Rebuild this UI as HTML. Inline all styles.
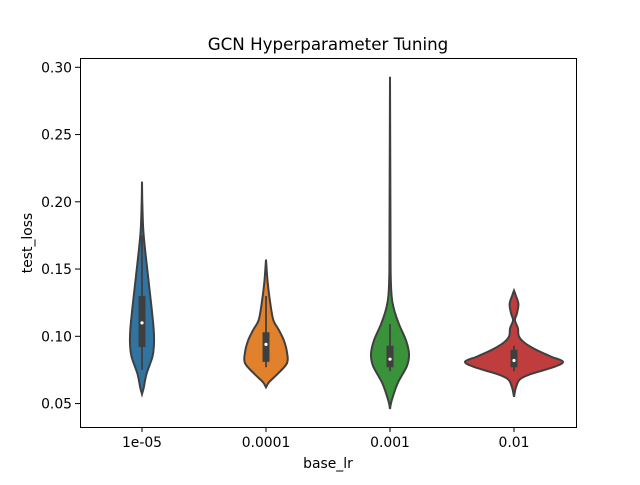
<!DOCTYPE html>
<html><head><meta charset="utf-8">
<style>
body{margin:0;background:#fff;}
svg text{font-family:"DejaVu Sans","Liberation Sans",sans-serif;fill:#000;}
</style></head>
<body>
<svg id="chart" width="640" height="480" xmlns="http://www.w3.org/2000/svg">
<rect x="0" y="0" width="640" height="480" fill="#fff"/>
<g id="plot"></g>
<rect x="80.5" y="58.5" width="496" height="369" fill="none" stroke="#000" stroke-width="1"/>
<text x="328" y="50" font-size="16.7" text-anchor="middle">GCN Hyperparameter Tuning</text>
<text x="328" y="468" font-size="13.9" text-anchor="middle">base_lr</text>
<text transform="translate(32,243) rotate(-90)" font-size="13.9" text-anchor="middle">test_loss</text>
<g id="axes"></g>
</svg>
<script>
const categories = ["1e-05","0.0001","0.001","0.01"];
const colors = ["#3274a1","#e1812c","#3a923a","#c03d3e"];
const yTicks = [0.05,0.10,0.15,0.20,0.25,0.30];
const yTickLabels = ["0.05","0.10","0.15","0.20","0.25","0.30"];
// density profiles: [value, relative half-width]
const density0 = [[0.057,0],[0.062,0.12],[0.072,0.3],[0.085,0.7],[0.095,0.8],[0.105,0.78],[0.12,0.65],[0.135,0.5],[0.15,0.35],[0.165,0.2],[0.18,0.08],[0.2,0.02],[0.215,0]];
const density1 = [[0.062,0],[0.066,0.15],[0.072,0.55],[0.08,1.0],[0.088,1.0],[0.097,0.85],[0.105,0.6],[0.112,0.35],[0.125,0.2],[0.14,0.08],[0.157,0]];
const density2 = [[0.046,0],[0.052,0.08],[0.065,0.38],[0.078,0.85],[0.087,0.95],[0.097,0.8],[0.109,0.45],[0.12,0.2],[0.13,0.08],[0.15,0.03],[0.2,0.02],[0.293,0]];
const density3 = [[0.055,0],[0.062,0.04],[0.068,0.12],[0.072,0.35],[0.077,0.8],[0.081,1.0],[0.085,0.75],[0.09,0.45],[0.095,0.22],[0.1,0.1],[0.106,0.08],[0.112,0.02],[0.117,0.06],[0.124,0.09],[0.13,0.04],[0.134,0]];
const densities = [density0,density1,density2,density3];
const scaleWidth = [15,21,20,49];
const q1 = [0.092,0.081,0.077,0.077];
const q3 = [0.130,0.103,0.093,0.090];
const medians = [0.110,0.094,0.083,0.082];
const whiskLo = [0.075,0.077,0.074,0.074];
const whiskHi = [0.175,0.130,0.109,0.093];

const xPos = i => 142 + i*124;
const yPos = v => 67.3 + (0.30 - v)*1345;
const NS = "http://www.w3.org/2000/svg";
const plot = document.getElementById('plot');
const axes = document.getElementById('axes');

function smooth(pts){
  let d = `M${pts[0][0]},${pts[0][1]}`;
  for(let i=0;i<pts.length-1;i++){
    const p0=pts[Math.max(i-1,0)],p1=pts[i],p2=pts[i+1],p3=pts[Math.min(i+2,pts.length-1)];
    const c1=[p1[0]+(p2[0]-p0[0])/6,p1[1]+(p2[1]-p0[1])/6];
    const c2=[p2[0]-(p3[0]-p1[0])/6,p2[1]-(p3[1]-p1[1])/6];
    d+=` C${c1[0]},${c1[1]} ${c2[0]},${c2[1]} ${p2[0]},${p2[1]}`;
  }
  return d;
}

categories.forEach((c,i)=>{
  const cx = xPos(i), dens = densities[i], w = scaleWidth[i];
  const right = dens.map(p=>[cx + p[1]*w, yPos(p[0])]);
  const left = dens.slice().reverse().map(p=>[cx - p[1]*w, yPos(p[0])]);
  const d = smooth(right) + ' L' + smooth(left).slice(1) + ' Z';
  const path = document.createElementNS(NS,'path');
  path.setAttribute('d', d);
  path.setAttribute('fill', colors[i]);
  path.setAttribute('stroke', '#3f3f3f');
  path.setAttribute('stroke-width', '2');
  
  
  plot.appendChild(path);
  const wl = document.createElementNS(NS,'line');
  wl.setAttribute('x1',cx);wl.setAttribute('x2',cx);
  wl.setAttribute('y1',yPos(whiskLo[i]));wl.setAttribute('y2',yPos(whiskHi[i]));
  wl.setAttribute('stroke','#3f3f3f');wl.setAttribute('stroke-width','1.8');
  
  
  plot.appendChild(wl);
  const bx = document.createElementNS(NS,'rect');
  bx.setAttribute('x',cx-3.5);bx.setAttribute('width',7);
  bx.setAttribute('y',yPos(q3[i]));bx.setAttribute('height',yPos(q1[i])-yPos(q3[i]));
  bx.setAttribute('fill','#3f3f3f');
  
  
  plot.appendChild(bx);
  const md = document.createElementNS(NS,'circle');
  md.setAttribute('cx',cx);md.setAttribute('cy',yPos(medians[i]));md.setAttribute('r',1.6);
  md.setAttribute('fill','#fff');
  
  
  plot.appendChild(md);
  const tk = document.createElementNS(NS,'line');
  tk.setAttribute('x1',cx);tk.setAttribute('x2',cx);tk.setAttribute('y1',427);tk.setAttribute('y2',432);
  tk.setAttribute('stroke','#000');
  
  
  axes.appendChild(tk);
  const tl = document.createElementNS(NS,'text');
  tl.setAttribute('x',cx);tl.setAttribute('y',447);tl.setAttribute('font-size','13.9');tl.setAttribute('text-anchor','middle');
  tl.textContent = c;
  
  
  axes.appendChild(tl);
});

yTicks.forEach((v,i)=>{
  const y = yPos(v);
  const tk = document.createElementNS(NS,'line');
  tk.setAttribute('x1',75);tk.setAttribute('x2',80);tk.setAttribute('y1',y);tk.setAttribute('y2',y);
  tk.setAttribute('stroke','#000');
  
  
  axes.appendChild(tk);
  const tl = document.createElementNS(NS,'text');
  tl.setAttribute('x',72);tl.setAttribute('y',y+5);tl.setAttribute('font-size','13.9');tl.setAttribute('text-anchor','end');
  tl.textContent = yTickLabels[i];
  
  
  axes.appendChild(tl);
});
</script>
</body></html>
